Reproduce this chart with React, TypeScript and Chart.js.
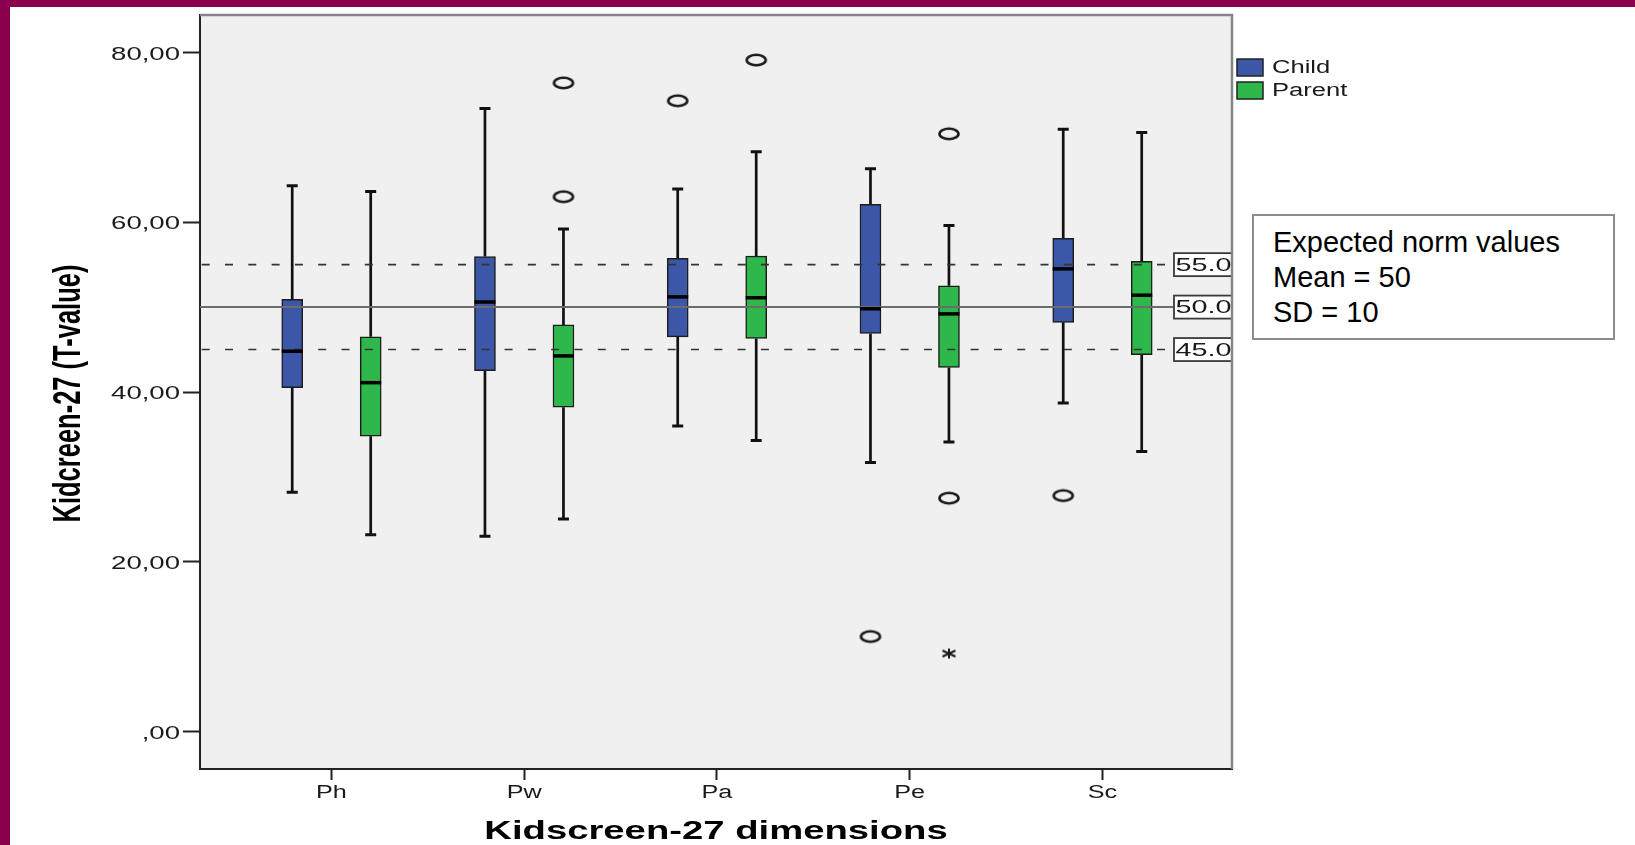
import React, { useEffect, useRef } from "react";
import { Chart, registerables } from "chart.js";

Chart.register(...registerables);

// ---------- data ----------
const categories = ["Ph", "Pw", "Pa", "Pe", "Sc"];
const seriesNames = ["Child", "Parent"];
const yTickValues = [0, 20, 40, 60, 80];
const yTickLabels = [",00", "20,00", "40,00", "60,00", "80,00"];

const childMin = [28.2, 23.0, 36.0, 31.7, 38.7];
const childQ1 = [40.5, 42.5, 46.5, 46.9, 48.2];
const childMedian = [44.8, 50.6, 51.2, 49.8, 54.5];
const childQ3 = [50.9, 55.95, 55.75, 62.1, 58.1];
const childMax = [64.3, 73.4, 63.9, 66.3, 70.95];

const parentMin = [23.2, 25.05, 34.3, 34.1, 33.0];
const parentQ1 = [34.8, 38.2, 46.3, 42.9, 44.4];
const parentMedian = [41.1, 44.25, 51.1, 49.2, 51.4];
const parentQ3 = [46.5, 47.9, 56.0, 52.5, 55.4];
const parentMax = [63.6, 59.2, 68.3, 59.6, 70.55];

const childOutlierCat = [2, 3, 4];
const childOutlierVal = [74.3, 11.2, 27.8];
const parentOutlierCat = [1, 1, 2, 3, 3];
const parentOutlierVal = [76.4, 63.0, 79.1, 70.4, 27.5];
const parentExtremeCat = [3];
const parentExtremeVal = [9.2];

const normValues = [55, 50, 45];
const normLabels = ["55.0", "50.0", "45.0"];
const normBoxLines = ["Expected norm values", "Mean = 50", "SD = 10"];

// ---------- styles ----------
const MAROON = "#8B004E";
const CHILD_COLOR = "#3C56A8";
const PARENT_COLOR = "#2EB84B";
const PLOT_BG = "#F0F0F0";
const OFF = 0.2036;
const FONT = '"Liberation Sans", Arial, sans-serif';

function makeEllipse(): HTMLCanvasElement {
  const c = document.createElement("canvas");
  c.width = 26;
  c.height = 16;
  const g = c.getContext("2d")!;
  g.strokeStyle = "#1a1a1a";
  g.lineWidth = 2.6;
  g.beginPath();
  g.ellipse(13, 8, 9.5, 5.2, 0, 0, Math.PI * 2);
  g.stroke();
  return c;
}

function makeStar(): HTMLCanvasElement {
  const c = document.createElement("canvas");
  c.width = 18;
  c.height = 14;
  const g = c.getContext("2d")!;
  g.strokeStyle = "#1a1a1a";
  g.lineWidth = 2;
  g.beginPath();
  g.moveTo(9, 2);
  g.lineTo(9, 12);
  g.moveTo(2.5, 4);
  g.lineTo(15.5, 10);
  g.moveTo(2.5, 10);
  g.lineTo(15.5, 4);
  g.stroke();
  return c;
}

function sText(
  ctx: CanvasRenderingContext2D,
  text: string,
  x: number,
  y: number,
  sx: number,
  sy: number,
  align: CanvasTextAlign,
  baseline: CanvasTextBaseline,
  font: string,
  color: string,
  rotate = 0
) {
  ctx.save();
  ctx.translate(x, y);
  if (rotate) ctx.rotate(rotate);
  ctx.scale(sx, sy);
  ctx.font = font;
  ctx.fillStyle = color;
  ctx.textAlign = align;
  ctx.textBaseline = baseline;
  ctx.fillText(text, 0, 0);
  ctx.restore();
}

const boxSeries = [
  { off: -OFF, min: childMin, q1: childQ1, med: childMedian, q3: childQ3, max: childMax },
  { off: OFF, min: parentMin, q1: parentQ1, med: parentMedian, q3: parentQ3, max: parentMax },
];

const spssPlugin = {
  id: "spss",
  beforeDraw(chart: any) {
    const { ctx, chartArea: a } = chart;
    ctx.save();
    ctx.fillStyle = PLOT_BG;
    ctx.fillRect(a.left, a.top, a.right - a.left, a.bottom - a.top);
    ctx.restore();
  },
  beforeDatasetsDraw(chart: any) {
    const { ctx, scales } = chart;
    const xs = scales.x;
    const ys = scales.y;
    ctx.save();
    ctx.strokeStyle = "#111";
    boxSeries.forEach((s) => {
      categories.forEach((_, i) => {
        const x = xs.getPixelForValue(i + s.off);
        ctx.lineWidth = 2.7;
        ctx.beginPath();
        ctx.moveTo(x, ys.getPixelForValue(s.min[i]));
        ctx.lineTo(x, ys.getPixelForValue(s.q1[i]));
        ctx.moveTo(x, ys.getPixelForValue(s.q3[i]));
        ctx.lineTo(x, ys.getPixelForValue(s.max[i]));
        ctx.stroke();
        ctx.lineWidth = 3;
        ctx.beginPath();
        ctx.moveTo(x - 5.5, ys.getPixelForValue(s.min[i]));
        ctx.lineTo(x + 5.5, ys.getPixelForValue(s.min[i]));
        ctx.moveTo(x - 5.5, ys.getPixelForValue(s.max[i]));
        ctx.lineTo(x + 5.5, ys.getPixelForValue(s.max[i]));
        ctx.stroke();
      });
    });
    ctx.restore();
  },
  afterDatasetsDraw(chart: any) {
    const { ctx, scales, chartArea: a } = chart;
    const xs = scales.x;
    const ys = scales.y;
    const boxLeft = a.right - 58;
    ctx.save();
    // reference lines
    normValues.forEach((v) => {
      const y = ys.getPixelForValue(v);
      ctx.beginPath();
      if (v === 50) {
        ctx.setLineDash([]);
        ctx.strokeStyle = "#6c6c6c";
        ctx.lineWidth = 2;
      } else {
        ctx.setLineDash([8, 15.3]);
        ctx.lineDashOffset = -1.7;
        ctx.strokeStyle = "#333";
        ctx.lineWidth = 1.6;
      }
      ctx.moveTo(a.left, y);
      ctx.lineTo(boxLeft, y);
      ctx.stroke();
    });
    ctx.setLineDash([]);
    // medians
    ctx.strokeStyle = "#000";
    ctx.lineWidth = 3.5;
    boxSeries.forEach((s) => {
      categories.forEach((_, i) => {
        const x = xs.getPixelForValue(i + s.off);
        const y = ys.getPixelForValue(s.med[i]);
        ctx.beginPath();
        ctx.moveTo(x - 10.5, y);
        ctx.lineTo(x + 10.5, y);
        ctx.stroke();
      });
    });
    // norm labels
    ctx.beginPath();
    ctx.rect(a.left, a.top, a.right - a.left, a.bottom - a.top);
    ctx.clip();
    normValues.forEach((v, k) => {
      const y = ys.getPixelForValue(v);
      ctx.fillStyle = "#fff";
      ctx.fillRect(boxLeft, y - 11.5, 62, 23);
      ctx.strokeStyle = "#3a3a3a";
      ctx.lineWidth = 1.8;
      ctx.strokeRect(boxLeft, y - 11.5, 62, 23);
      sText(ctx, normLabels[k], boxLeft + 1.5, y + 1, 1.6, 1, "left", "middle", `18px ${FONT}`, "#1a1a1a");
    });
    ctx.restore();
  },
  afterDraw(chart: any) {
    const { ctx, scales, chartArea: a } = chart;
    const xs = scales.x;
    const ys = scales.y;
    ctx.save();
    // top & right frame
    ctx.strokeStyle = "#858585";
    ctx.lineWidth = 2.5;
    ctx.beginPath();
    ctx.moveTo(a.left, a.top);
    ctx.lineTo(a.right, a.top);
    ctx.lineTo(a.right, a.bottom);
    ctx.stroke();
    // y tick labels
    yTickValues.forEach((v, k) => {
      sText(ctx, yTickLabels[k], a.left - 20, ys.getPixelForValue(v) + 2, 1.45, 1, "right", "middle", `19px ${FONT}`, "#1a1a1a");
    });
    // x tick labels
    categories.forEach((c, i) => {
      sText(ctx, c, xs.getPixelForValue(i), a.bottom + 24, 1.4, 1, "center", "middle", `18px ${FONT}`, "#1a1a1a");
    });
    // axis titles
    sText(ctx, "Kidcreen-27 (T-value)", a.left - 120, (a.top + a.bottom) / 2 + 1.5, 1, 1.5, "center", "alphabetic", `bold 25.5px ${FONT}`, "#000", -Math.PI / 2);
    sText(ctx, "Kidscreen-27 dimensions", (a.left + a.right) / 2, a.bottom + 70, 1.53, 1, "center", "alphabetic", `bold 25px ${FONT}`, "#000");
    // legend
    const colors = [CHILD_COLOR, PARENT_COLOR];
    seriesNames.forEach((n, k) => {
      const y = 59 + k * 23;
      ctx.fillStyle = colors[k];
      ctx.fillRect(a.right + 5, y, 26, 17);
      ctx.strokeStyle = "#222";
      ctx.lineWidth = 1.5;
      ctx.strokeRect(a.right + 5, y, 26, 17);
      sText(ctx, n, a.right + 40, y + 9, 1.42, 1, "left", "middle", `18px ${FONT}`, "#1a1a1a");
    });
    ctx.restore();
  },
};

export default function App() {
  const ref = useRef<HTMLCanvasElement>(null);

  useEffect(() => {
    const canvas = ref.current!;
    const ellipse = makeEllipse();
    const star = makeStar();
    const chart = new Chart(canvas, {
      type: "bar",
      data: {
        datasets: [
          {
            type: "bar",
            label: seriesNames[0],
            data: categories.map((_, i) => ({ x: i - OFF, y: [childQ1[i], childQ3[i]] })) as any,
            backgroundColor: CHILD_COLOR,
            borderColor: "#1c1c1c",
            borderWidth: 1.5,
            borderSkipped: false,
            grouped: false,
            barThickness: 21,
            maxBarThickness: 21,
          } as any,
          {
            type: "bar",
            label: seriesNames[1],
            data: categories.map((_, i) => ({ x: i + OFF, y: [parentQ1[i], parentQ3[i]] })) as any,
            backgroundColor: PARENT_COLOR,
            borderColor: "#1c1c1c",
            borderWidth: 1.5,
            borderSkipped: false,
            grouped: false,
            barThickness: 21,
            maxBarThickness: 21,
          } as any,
          {
            type: "scatter",
            label: "outliers",
            data: [
              ...childOutlierCat.map((c, k) => ({ x: c - OFF, y: childOutlierVal[k] })),
              ...parentOutlierCat.map((c, k) => ({ x: c + OFF, y: parentOutlierVal[k] })),
            ],
            pointStyle: ellipse as any,
            pointRadius: 8,
          } as any,
          {
            type: "scatter",
            label: "extremes",
            data: parentExtremeCat.map((c, k) => ({ x: c + OFF, y: parentExtremeVal[k] })),
            pointStyle: star as any,
            pointRadius: 7,
          } as any,
        ],
      },
      options: {
        responsive: false,
        animation: false,
        devicePixelRatio: 1,
        events: [],
        layout: { padding: { left: 183, right: 403, top: 15, bottom: 65 } },
        plugins: { legend: { display: false }, tooltip: { enabled: false } },
        scales: {
          x: {
            type: "linear",
            min: -0.682,
            max: 4.672,
            offset: false,
            afterBuildTicks: (s: any) => {
              s.ticks = categories.map((_, i) => ({ value: i }));
            },
            ticks: { display: false },
            grid: {
              offset: false,
              drawOnChartArea: false,
              drawTicks: true,
              tickLength: 11,
              tickColor: "#222",
              tickWidth: 2,
            },
            border: { display: true, color: "#222", width: 2 },
          },
          y: {
            type: "linear",
            min: -4.4,
            max: 84.4,
            afterBuildTicks: (s: any) => {
              s.ticks = yTickValues.map((v) => ({ value: v }));
            },
            ticks: { display: false },
            grid: {
              drawOnChartArea: false,
              drawTicks: true,
              tickLength: 17,
              tickColor: "#222",
              tickWidth: 2,
            },
            border: { display: true, color: "#222", width: 2 },
          },
        } as any,
      },
      plugins: [spssPlugin],
    });
    return () => chart.destroy();
  }, []);

  return (
    <div
      style={{
        position: "fixed",
        left: 0,
        top: 0,
        width: 1635,
        height: 845,
        background: MAROON,
        overflow: "hidden",
      }}
    >
      <div style={{ position: "absolute", left: 10, top: 7, right: 0, bottom: 0, background: "#fff" }} />
      <canvas
        ref={ref}
        width={1635}
        height={845}
        style={{ position: "absolute", left: 0, top: 0, width: 1635, height: 845 }}
      />
      <div
        style={{
          position: "absolute",
          left: 1252,
          top: 214,
          width: 363,
          height: 126,
          boxSizing: "border-box",
          border: "2px solid #8c8c8c",
          background: "#fff",
          padding: "9px 0 0 19px",
          font: `29px ${FONT}`,
          lineHeight: "35px",
          color: "#000",
        }}
      >
        {normBoxLines.map((t) => (
          <div key={t}>{t}</div>
        ))}
      </div>
    </div>
  );
}
